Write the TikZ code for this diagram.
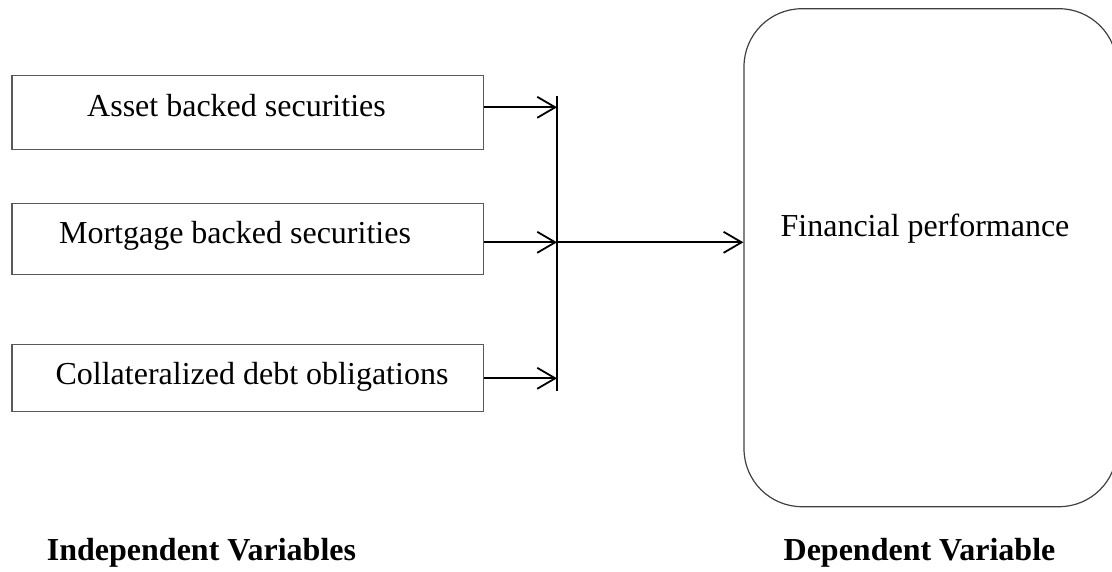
\documentclass[tikz,border=0pt]{standalone}
\usepackage{fontspec}
\setmainfont{Liberation Serif}
\usetikzlibrary{arrows.meta}
\tikzset{iv/.style = {rectangle, draw=black!65, line width=1.3pt, minimum width=471.7pt, inner sep=0pt},
         dv/.style = {rectangle, rounded corners=58pt, draw=black!75, line width=1.2pt,
                      minimum width=373pt, minimum height=498pt, inner sep=0pt},
         lb/.style = {inner sep=0pt, anchor=base, font=\fontsize{32}{38}\selectfont},
         hd/.style = {inner sep=0pt, anchor=base, font=\fontsize{32}{38}\selectfont\bfseries},
         ar/.style = {line width=1.8pt, -{Straight Barb[length=18pt, width=21pt, line width=1.8pt]}}}
\begin{document}
\begin{tikzpicture}[x=1pt, y=-1pt]
    \useasboundingbox (0,0) rectangle (1112,571);
    % independent variables
    \node[iv, minimum height=74pt] (abs) at (247.85,112.3) {};
    \node[iv, minimum height=71.4pt] (mbs) at (247.85,239) {};
    \node[iv, minimum height=67pt] (cdo) at (247.85,378.2) {};
    \node[lb] (absT) at (236.5,116) {Asset backed securities};
    \node[lb] (mbsT) at (235,243) {Mortgage backed securities};
    \node[lb] (cdoT) at (252,384) {Collateralized debt obligations};
    % dependent variable
    \node[dv] (perf) at (930.5,257.7) {};
    \node[lb] (perfT) at (925,236.7) {Financial performance};
    % connectors
    \coordinate (top) at (557,95.7); \coordinate (bot) at (557,391);
    \coordinate (j1) at (557,107.3); \coordinate (j2) at (557,242.3); \coordinate (j3) at (557,378.3);
    \draw[line width=1.8pt] (top) -- (bot);
    \draw[ar] (abs.east |- j1) -- (j1);
    \draw[ar] (mbs.east |- j2) -- (j2);
    \draw[ar] (cdo.east |- j3) -- (j3);
    \draw[ar] (j2) -- (perf.west |- j2);
    % headings
    \node[hd] (ind) at (201.5,560) {Independent Variables};
    \node[hd] (dep) at (919.5,560) {Dependent Variable};
\end{tikzpicture}
\end{document}
